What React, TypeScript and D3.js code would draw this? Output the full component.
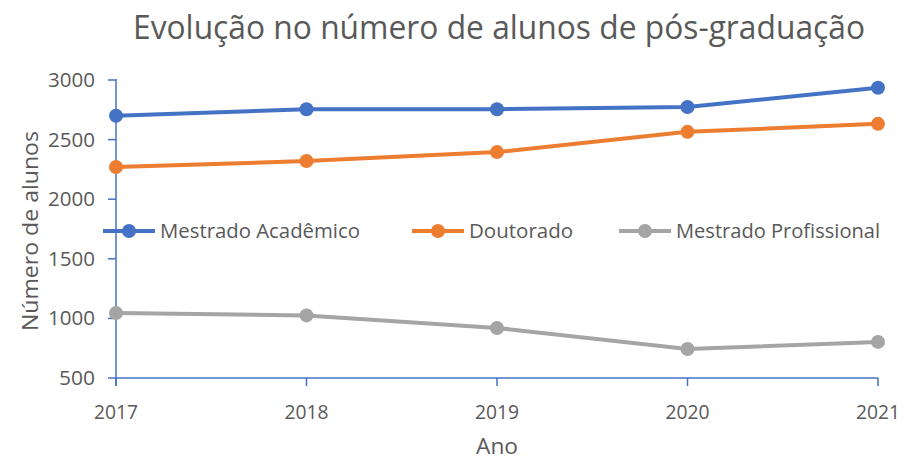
import { scaleLinear, scalePoint, line } from "d3";

const years = ["2017", "2018", "2019", "2020", "2021"];
const academico = [2700, 2755, 2755, 2773, 2935];
const doutorado = [2270, 2320, 2395, 2565, 2632];
const profissional = [1045, 1025, 920, 743, 803];
const yTicks = [500, 1000, 1500, 2000, 2500, 3000];

const seriesNames = ["Mestrado Acadêmico", "Doutorado", "Mestrado Profissional"];
const seriesColors = ["#4472C4", "#ED7D31", "#A5A5A5"];

const FONT = "'Open Sans', 'Liberation Sans', sans-serif";
const TEXT = "#595959";
const AXIS = "#4472C4";

export default function App() {
  const width = 905;
  const height = 459;
  const x = scalePoint().domain(years).range([116, 878]);
  const y = scaleLinear().domain([500, 3000]).range([378, 80]);
  const series = [academico, doutorado, profissional];
  const path = line<number>()
    .x((_, i) => x(years[i]) as number)
    .y((d) => y(d));

  const legendX = [103, 412, 619];
  const legendLen = [200, 104, 204];

  return (
    <svg width={width} height={height} style={{ position: "absolute", left: 0, top: 0, background: "#fff" }}>
      <text x={499} y={39} textAnchor="middle" fontFamily={FONT} fontSize={32} fill={TEXT} textLength={732} lengthAdjust="spacingAndGlyphs">
        Evolução no número de alunos de pós-graduação
      </text>

      {/* y axis */}
      <line x1={116} x2={116} y1={79} y2={386} stroke={AXIS} strokeWidth={1.5} />
      {yTicks.map((t) => (
        <g key={t}>
          <line x1={108} x2={116} y1={y(t)} y2={y(t)} stroke={AXIS} strokeWidth={1.5} />
          <text x={95} y={y(t) + 7} textAnchor="end" fontFamily={FONT} fontSize={20} fill={TEXT} textLength={t >= 1000 ? 47 : 36} lengthAdjust="spacingAndGlyphs">
            {t}
          </text>
        </g>
      ))}

      {/* x axis */}
      <line x1={116} x2={878} y1={378} y2={378} stroke={AXIS} strokeWidth={1.5} />
      {years.map((yr) => (
        <g key={yr}>
          <line x1={x(yr)} x2={x(yr)} y1={378} y2={386} stroke={AXIS} strokeWidth={1.5} />
          <text x={x(yr)} y={419} textAnchor="middle" fontFamily={FONT} fontSize={20} fill={TEXT} textLength={44} lengthAdjust="spacingAndGlyphs">
            {yr}
          </text>
        </g>
      ))}

      <text x={497} y={454} textAnchor="middle" fontFamily={FONT} fontSize={22} fill={TEXT} textLength={42} lengthAdjust="spacingAndGlyphs">
        Ano
      </text>
      <text transform="translate(38,231) rotate(-90)" textAnchor="middle" fontFamily={FONT} fontSize={22} fill={TEXT} textLength={200} lengthAdjust="spacingAndGlyphs">
        Número de alunos
      </text>

      {series.map((s, k) => (
        <g key={seriesNames[k]}>
          <path d={path(s) ?? ""} fill="none" stroke={seriesColors[k]} strokeWidth={4} strokeLinejoin="round" />
          {s.map((v, i) => (
            <circle key={i} cx={x(years[i])} cy={y(v)} r={7} fill={seriesColors[k]} />
          ))}
        </g>
      ))}

      {/* legend */}
      {seriesNames.map((name, k) => (
        <g key={name}>
          <line x1={legendX[k]} x2={legendX[k] + 52} y1={231} y2={231} stroke={seriesColors[k]} strokeWidth={4} />
          <circle cx={legendX[k] + 26} cy={231} r={7} fill={seriesColors[k]} />
          <text x={legendX[k] + 57} y={238} fontFamily={FONT} fontSize={20} fill={TEXT} textLength={legendLen[k]} lengthAdjust="spacingAndGlyphs">
            {name}
          </text>
        </g>
      ))}
    </svg>
  );
}
